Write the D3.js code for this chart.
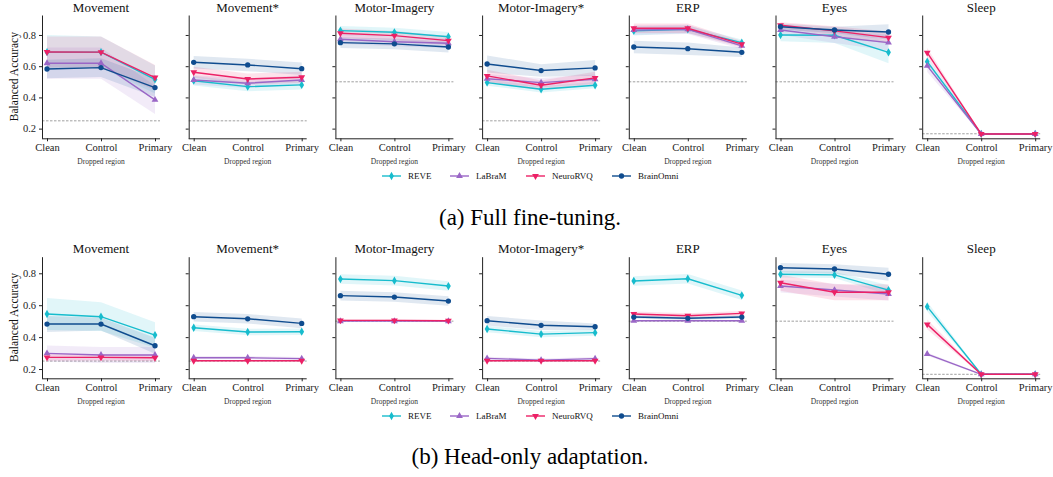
<!DOCTYPE html>
<html>
<head>
<meta charset="utf-8">
<script src="https://cdn.jsdelivr.net/npm/d3@7"></script>
<style>
  body { margin: 0; background: #fff; }
</style>
</head>
<body>
<div id="chart"></div>
<script>
// panels, x categories, chance levels
var titles = ["Movement", "Movement*", "Motor-Imagery", "Motor-Imagery*", "ERP", "Eyes", "Sleep"];
var regions = ["Clean", "Control", "Primary"];
var chance = [0.25, 0.25, 0.5, 0.25, 0.5, 0.5, 0.167];
var models = ["REVE", "LaBraM", "NeuroRVQ", "BrainOmni"];
var yTicks = [0.2, 0.4, 0.6, 0.8];

// (a) full fine-tuning: mean per panel [Clean, Control, Primary]
var fullReve   = [[0.69, 0.69, 0.515], [0.507, 0.469, 0.48], [0.828, 0.817, 0.789], [0.495, 0.452, 0.478], [0.826, 0.836, 0.751], [0.80, 0.798, 0.689], [0.629, 0.166, 0.166]];
var fullLabram = [[0.619, 0.619, 0.384], [0.512, 0.491, 0.512], [0.773, 0.757, 0.747], [0.52, 0.495, 0.516], [0.832, 0.836, 0.73], [0.832, 0.789, 0.751], [0.602, 0.166, 0.166]];
var fullNeuro  = [[0.691, 0.69, 0.527], [0.561, 0.518, 0.529], [0.811, 0.796, 0.764], [0.538, 0.478, 0.525], [0.843, 0.843, 0.741], [0.862, 0.826, 0.783], [0.687, 0.166, 0.166]];
var fullBrain  = [[0.582, 0.591, 0.463], [0.625, 0.608, 0.584], [0.751, 0.743, 0.723], [0.614, 0.572, 0.589], [0.723, 0.712, 0.689], [0.853, 0.832, 0.819], null];

// (a) spread
var fullReveSd   = [[0.11, 0.10, 0.09], [0.03, 0.03, 0.03], [0.03, 0.03, 0.03], [0.02, 0.02, 0.02], [0.03, 0.025, 0.02], [0.04, 0.05, 0.07], [0.03, 0.004, 0.004]];
var fullLabramSd = [[0.10, 0.10, 0.09], [0.03, 0.03, 0.03], [0.03, 0.03, 0.03], [0.03, 0.03, 0.03], [0.03, 0.03, 0.02], [0.03, 0.04, 0.05], [0.04, 0.004, 0.004]];
var fullNeuroSd  = [[0.10, 0.10, 0.08], [0.035, 0.035, 0.035], [0.03, 0.03, 0.03], [0.04, 0.03, 0.04], [0.03, 0.03, 0.02], [0.02, 0.03, 0.04], [0.03, 0.004, 0.004]];
var fullBrainSd  = [[0.06, 0.06, 0.06], [0.04, 0.04, 0.04], [0.035, 0.035, 0.035], [0.055, 0.04, 0.05], [0.04, 0.04, 0.03], [0.02, 0.02, 0.05], null];

// (b) head-only adaptation
var headReve   = [[0.545, 0.528, 0.413], [0.459, 0.432, 0.434], [0.764, 0.754, 0.72], [0.451, 0.419, 0.428], [0.752, 0.766, 0.662], [0.794, 0.79, 0.695], [0.591, 0.167, 0.167]];
var headLabram = [[0.298, 0.288, 0.288], [0.271, 0.271, 0.265], [0.50, 0.50, 0.50], [0.267, 0.256, 0.265], [0.503, 0.503, 0.503], [0.72, 0.695, 0.67], [0.294, 0.167, 0.167]];
var headNeuro  = [[0.273, 0.273, 0.271], [0.252, 0.252, 0.252], [0.505, 0.505, 0.503], [0.252, 0.252, 0.252], [0.545, 0.534, 0.549], [0.741, 0.681, 0.681], [0.48, 0.167, 0.167]];
var headBrain  = [[0.482, 0.482, 0.346], [0.528, 0.515, 0.486], [0.66, 0.651, 0.626], [0.503, 0.474, 0.465], [0.526, 0.518, 0.526], [0.835, 0.827, 0.794], null];

var headReveSd   = [[0.10, 0.09, 0.08], [0.02, 0.02, 0.02], [0.03, 0.03, 0.03], [0.02, 0.02, 0.02], [0.03, 0.03, 0.03], [0.02, 0.02, 0.03], [0.03, 0.004, 0.004]];
var headLabramSd = [[0.05, 0.05, 0.05], [0.01, 0.01, 0.01], [0.005, 0.005, 0.005], [0.01, 0.01, 0.01], [0.005, 0.005, 0.005], [0.04, 0.04, 0.04], [0.01, 0.004, 0.004]];
var headNeuroSd  = [[0.02, 0.02, 0.02], [0.005, 0.005, 0.005], [0.005, 0.005, 0.005], [0.005, 0.005, 0.005], [0.015, 0.015, 0.015], [0.05, 0.05, 0.05], [0.03, 0.004, 0.004]];
var headBrainSd  = [[0.05, 0.04, 0.05], [0.03, 0.03, 0.03], [0.03, 0.03, 0.03], [0.03, 0.03, 0.02], [0.01, 0.01, 0.01], [0.03, 0.03, 0.04], null];

var colors = { REVE: "#17bccd", LaBraM: "#9a66c6", NeuroRVQ: "#ec2166", BrainOmni: "#0f4c8f" };
var shapes = { REVE: d3.symbolDiamond, LaBraM: d3.symbolTriangle, NeuroRVQ: d3.symbolTriangle, BrainOmni: d3.symbolCircle };
var serif = "'Liberation Serif', 'DejaVu Serif', serif";

var width = 1053, height = 477;
var svg = d3.select("#chart").append("svg")
  .attr("width", width)
  .attr("height", height)
  .style("font-family", serif);

var rows = [
  { means: [fullReve, fullLabram, fullNeuro, fullBrain], sds: [fullReveSd, fullLabramSd, fullNeuroSd, fullBrainSd],
    top: 15, bottom: 138.3, domain: [0.138, 0.928], caption: "(a) Full fine-tuning.", captionY: 225, legendY: 176 },
  { means: [headReve, headLabram, headNeuro, headBrain], sds: [headReveSd, headLabramSd, headNeuroSd, headBrainSd],
    top: 256.7, bottom: 378.3, domain: [0.142, 0.904], caption: "(b) Head-only adaptation.", captionY: 464, legendY: 416 }
];

var panelW = 118;
function panelLeft(i) { return 42 + i * 146.7; }

// point marker, NeuroRVQ uses a flipped triangle
function marker(g, model, x, y) {
  var s = d3.symbol().type(shapes[model]).size(model == "BrainOmni" ? 22 : 20);
  g.append("path")
    .attr("d", s())
    .attr("transform", "translate(" + x + "," + y + ")" + (model == "NeuroRVQ" ? " rotate(180)" : ""))
    .attr("fill", colors[model]);
}

function label(sel) {
  return sel.style("font-family", serif);
}

rows.forEach(function(row) {
  var yScale = d3.scaleLinear().domain(row.domain).range([row.bottom, row.top]);

  titles.forEach(function(title, i) {
    var left = panelLeft(i);
    var xScale = d3.scalePoint().domain(regions).range([left + 5, left + panelW - 5]);
    var g = svg.append("g");

    // chance level
    g.append("line")
      .attr("x1", left).attr("x2", left + panelW)
      .attr("y1", yScale(chance[i])).attr("y2", yScale(chance[i]))
      .attr("stroke", "#888").attr("stroke-width", 0.8)
      .attr("stroke-dasharray", "2.5,1.5");

    var area = d3.area()
      .x(function(d, k) { return xScale(regions[k]); })
      .y0(function(d) { return yScale(d[0] - d[1]); })
      .y1(function(d) { return yScale(d[0] + d[1]); });
    var line = d3.line()
      .x(function(d, k) { return xScale(regions[k]); })
      .y(function(d) { return yScale(d); });

    // ribbons
    models.forEach(function(mod, s) {
      var vals = row.means[s][i];
      if (!vals) return;
      var sd = row.sds[s][i];
      g.append("path")
        .datum(vals.map(function(v, k) { return [v, sd[k]]; }))
        .attr("d", area)
        .attr("fill", colors[mod])
        .attr("fill-opacity", 0.13);
    });

    // lines + markers
    models.forEach(function(mod, s) {
      var vals = row.means[s][i];
      if (!vals) return;
      g.append("path")
        .datum(vals)
        .attr("d", line)
        .attr("fill", "none")
        .attr("stroke", colors[mod])
        .attr("stroke-width", 1.4);
      vals.forEach(function(v, k) { marker(g, mod, xScale(regions[k]), yScale(v)); });
    });

    // axes
    var yAxis = d3.axisLeft(yScale).tickValues(yTicks).tickSize(3).tickSizeOuter(0);
    if (i > 0) yAxis.tickFormat("");
    var ya = g.append("g").attr("transform", "translate(" + left + ",0)").call(yAxis);
    var xa = g.append("g").attr("transform", "translate(0," + row.bottom + ")")
      .call(d3.axisBottom(xScale).tickSize(3).tickSizeOuter(0));
    xa.select(".domain").attr("d", "M" + left + ",0.5H" + (left + panelW));
    [ya, xa].forEach(function(a) {
      a.attr("font-family", null);
      label(a.selectAll("text")).attr("font-size", 10.5).attr("fill", "#222");
      a.selectAll("line").attr("stroke", "#222");
      a.select(".domain").attr("stroke", "#222");
    });
    xa.selectAll("text").attr("dy", "0.71em").attr("y", 5.5);

    label(g.append("text"))
      .attr("x", left + panelW / 2)
      .attr("y", row.top - 3.5)
      .attr("text-anchor", "middle")
      .attr("font-size", 13)
      .attr("fill", "#111")
      .text(title);

    label(g.append("text"))
      .attr("x", left + panelW / 2)
      .attr("y", row.bottom + 26)
      .attr("text-anchor", "middle")
      .attr("font-size", 7.5)
      .attr("fill", "#333")
      .text("Dropped region");
  });

  label(svg.append("text"))
    .attr("transform", "rotate(-90)")
    .attr("x", -(row.top + row.bottom) / 2)
    .attr("y", 18)
    .attr("text-anchor", "middle")
    .attr("font-size", 11.5)
    .attr("fill", "#111")
    .text("Balanced Accuracy");

  // legend
  var legX = [382, 450, 526, 612];
  models.forEach(function(mod, s) {
    var lg = svg.append("g");
    lg.append("line")
      .attr("x1", legX[s]).attr("x2", legX[s] + 19)
      .attr("y1", row.legendY).attr("y2", row.legendY)
      .attr("stroke", colors[mod]).attr("stroke-width", 1.4);
    marker(lg, mod, legX[s] + 9.5, row.legendY);
    label(lg.append("text"))
      .attr("x", legX[s] + 26)
      .attr("y", row.legendY + 3)
      .attr("font-size", 9)
      .attr("fill", "#111")
      .text(mod);
  });

  label(svg.append("text"))
    .attr("x", 530)
    .attr("y", row.captionY)
    .attr("text-anchor", "middle")
    .attr("font-size", 23)
    .attr("fill", "#000")
    .text(row.caption);
});
</script>
</body>
</html>
